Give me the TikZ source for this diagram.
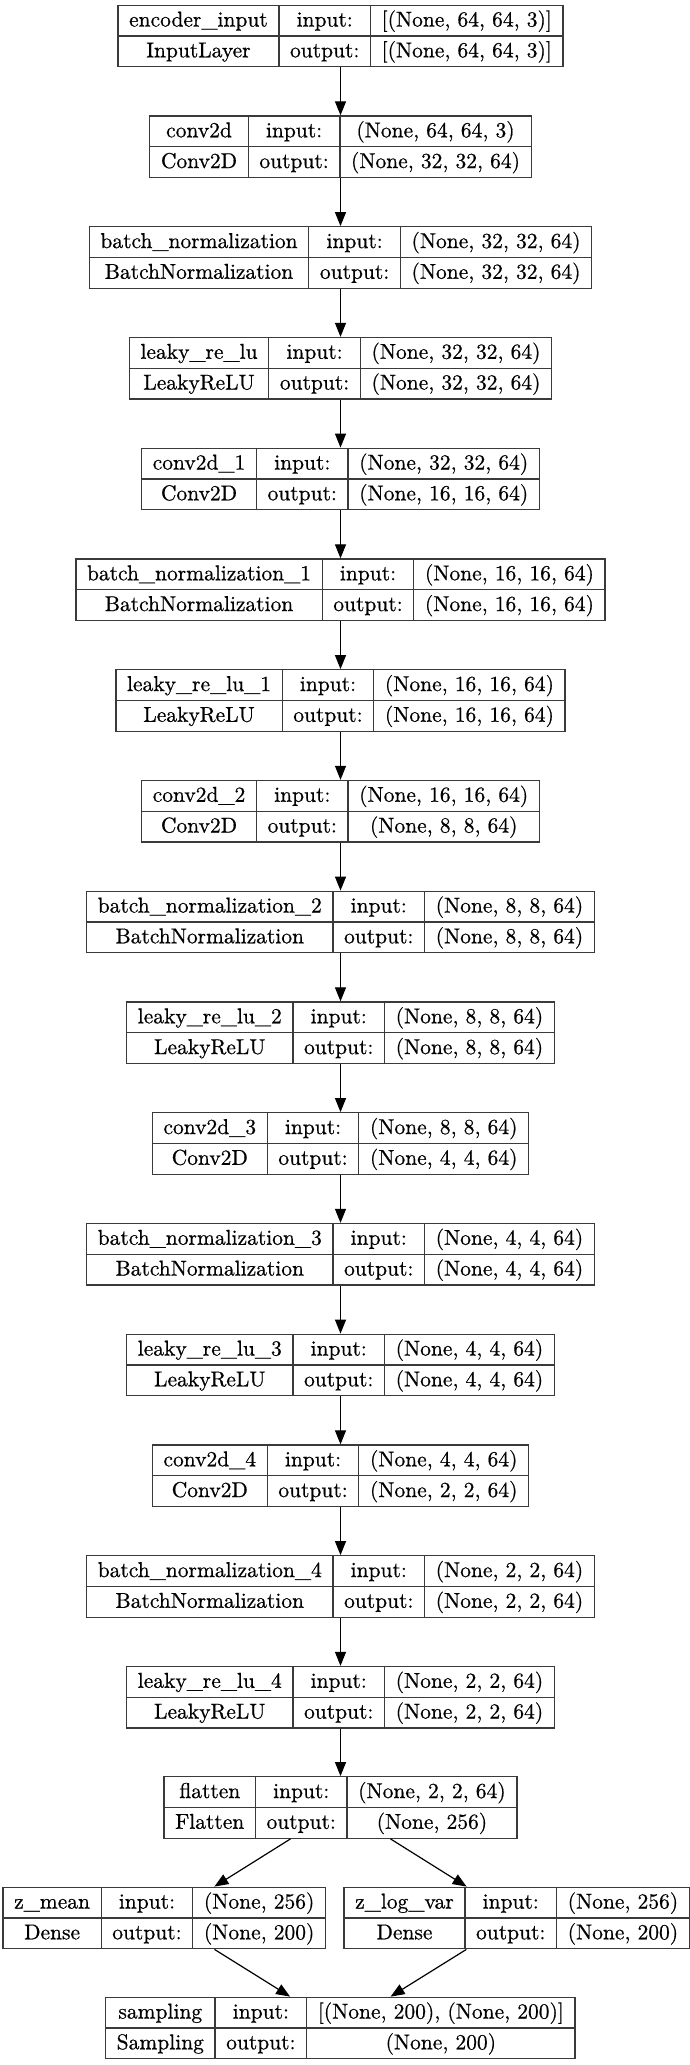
\documentclass[tikz,border=0pt]{standalone}
\usepackage{fontspec}
\usepackage{colortbl}
\usetikzlibrary{arrows.meta}
\newfontfamily\recfont{lmroman10-regular.otf}[FakeBold=0.6]
\definecolor{boxline}{HTML}{3A3A3A}
\renewcommand\arraystretch{1.178}
\setlength\tabcolsep{10.5pt}
\setlength\arrayrulewidth{1.3pt}
\arrayrulecolor{boxline}

% one Keras layer record: name | class, port labels, shapes
\newcommand\layerbox[7]{%
  \node[rec] (#1) at (#2,#3) {\begin{tabular}{|c|c|c|}\hline
    #4 & input: & #6\\\hline
    #5 & output: & #7\\\hline
  \end{tabular}};}

\begin{document}
\begin{tikzpicture}[x=1pt,y=-1pt,
  rec/.style={inner sep=0pt, outer sep=0pt, font=\recfont\fontsize{21.5}{25}\selectfont},
  conn/.style={line width=1.2pt, black, -{Triangle[length=14pt,width=11pt]}}]
\useasboundingbox (0,0) rectangle (690,2065);

\layerbox{enc}{340.5}{36}{encoder\_input}{InputLayer}{[(None, 64, 64, 3)]}{[(None, 64, 64, 3)]}
\layerbox{c0}{340.5}{146.75}{conv2d}{Conv2D}{(None, 64, 64, 3)}{(None, 32, 32, 64)}
\layerbox{b0}{340.5}{257.5}{batch\_normalization}{BatchNormalization}{(None, 32, 32, 64)}{(None, 32, 32, 64)}
\layerbox{l0}{340.5}{368.25}{leaky\_re\_lu}{LeakyReLU}{(None, 32, 32, 64)}{(None, 32, 32, 64)}
\layerbox{c1}{340.5}{479}{conv2d\_1}{Conv2D}{(None, 32, 32, 64)}{(None, 16, 16, 64)}
\layerbox{b1}{340.5}{589.75}{batch\_normalization\_1}{BatchNormalization}{(None, 16, 16, 64)}{(None, 16, 16, 64)}
\layerbox{l1}{340.5}{700.5}{leaky\_re\_lu\_1}{LeakyReLU}{(None, 16, 16, 64)}{(None, 16, 16, 64)}
\layerbox{c2}{340.5}{811.25}{conv2d\_2}{Conv2D}{(None, 16, 16, 64)}{(None, 8, 8, 64)}
\layerbox{b2}{340.5}{922}{batch\_normalization\_2}{BatchNormalization}{(None, 8, 8, 64)}{(None, 8, 8, 64)}
\layerbox{l2}{340.5}{1032.75}{leaky\_re\_lu\_2}{LeakyReLU}{(None, 8, 8, 64)}{(None, 8, 8, 64)}
\layerbox{c3}{340.5}{1143.5}{conv2d\_3}{Conv2D}{(None, 8, 8, 64)}{(None, 4, 4, 64)}
\layerbox{b3}{340.5}{1254.25}{batch\_normalization\_3}{BatchNormalization}{(None, 4, 4, 64)}{(None, 4, 4, 64)}
\layerbox{l3}{340.5}{1365}{leaky\_re\_lu\_3}{LeakyReLU}{(None, 4, 4, 64)}{(None, 4, 4, 64)}
\layerbox{c4}{340.5}{1475.75}{conv2d\_4}{Conv2D}{(None, 4, 4, 64)}{(None, 2, 2, 64)}
\layerbox{b4}{340.5}{1586.5}{batch\_normalization\_4}{BatchNormalization}{(None, 2, 2, 64)}{(None, 2, 2, 64)}
\layerbox{l4}{340.5}{1697.25}{leaky\_re\_lu\_4}{LeakyReLU}{(None, 2, 2, 64)}{(None, 2, 2, 64)}
\layerbox{fl}{340.5}{1807.5}{flatten}{Flatten}{(None, 2, 2, 64)}{(None, 256)}
\layerbox{zm}{164.3}{1918}{z\_mean}{Dense}{(None, 256)}{(None, 200)}
\layerbox{zv}{516.7}{1918}{z\_log\_var}{Dense}{(None, 256)}{(None, 200)}
\layerbox{sm}{340.3}{2028}{sampling}{Sampling}{[(None, 200), (None, 200)]}{(None, 200)}

% straight chain of the encoder
\foreach \a/\b in {enc/c0, c0/b0, b0/l0, l0/c1, c1/b1, b1/l1, l1/c2, c2/b2,
                   b2/l2, l2/c3, c3/b3, b3/l3, l3/c4, c4/b4, b4/l4, l4/fl}
  \draw[conn] (\a.south) -- (\b.north);

% branch into the two dense heads and the sampling layer
\draw[conn] (fl) -- (zm);
\draw[conn] (fl) -- (zv);
\draw[conn] (zm) -- (sm);
\draw[conn] (zv) -- (sm);
\end{tikzpicture}
\end{document}
